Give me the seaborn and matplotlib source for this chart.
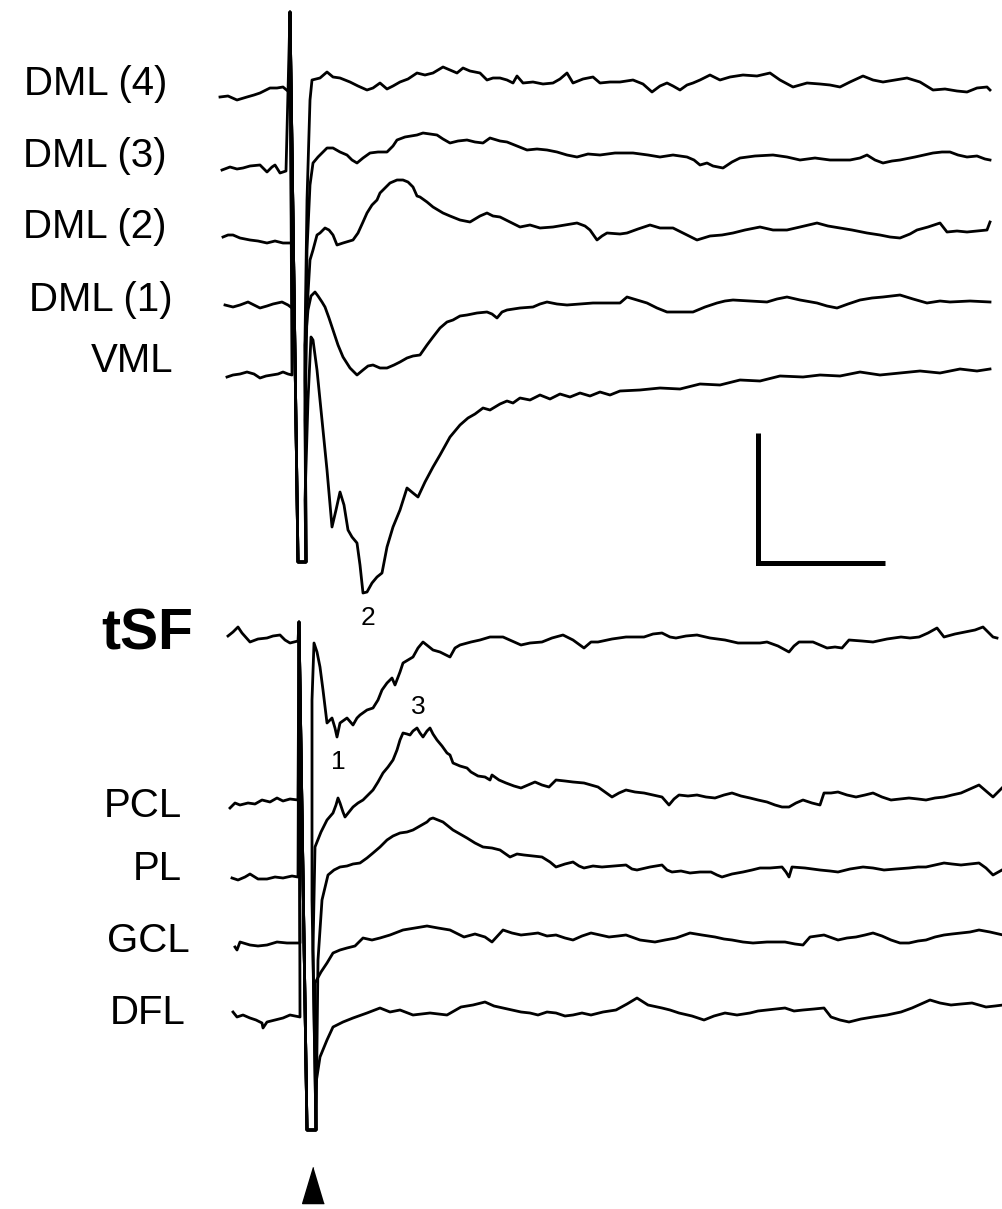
import matplotlib
matplotlib.use("Agg")
import matplotlib.pyplot as plt
import seaborn as sns
import pandas as pd

# ---------------- data (time axis t, amplitude axis v; v grows downward) ----------------
DML4_T = [220,228,237,247,254,260,266,270,277,283,
          289,290,298,306,305,307,310,312,320,327,
          333,340,350,358,367,373,380,387,393,400,
          408,417,425,433,443,450,457,463,470,480,
          487,493,500,507,513,517,523,533,543,553,
          560,567,573,583,593,600,610,620,633,643,
          652,660,667,673,680,687,693,700,710,720,
          730,743,757,770,780,793,807,820,830,840,
          850,863,873,883,895,907,920,933,945,957,
          967,977,987,990]
DML4_V = [97,96,100,97,95,93,90,88,88,87,
          92,12,562,562,340,200,100,80,78,72,
          77,78,82,86,90,88,83,89,86,82,
          79,73,75,73,67,70,73,68,71,73,
          80,78,78,80,83,76,83,82,84,83,
          79,73,83,79,77,83,82,82,80,84,
          92,86,83,86,90,85,83,80,75,80,
          77,75,76,73,80,87,83,84,85,87,
          82,76,80,82,80,78,82,90,89,91,
          92,88,87,90]

DML3_T = [222,230,237,243,250,260,267,272,275,280,
          286,290,298,306,305,307,310,313,318,323,
          327,333,340,347,352,357,363,370,378,387,
          393,397,405,417,423,430,437,443,450,458,
          467,475,483,490,500,507,517,527,537,547,
          557,567,577,588,600,615,633,648,660,673,
          687,694,700,707,713,723,732,740,755,773,
          787,800,815,830,850,860,867,875,883,892,
          900,915,933,942,950,958,967,977,985,990]
DML3_V = [170,167,169,168,166,165,172,167,165,173,
          171,12,562,562,380,250,185,163,157,152,
          148,148,152,155,160,163,158,153,152,152,
          146,140,137,135,133,134,135,139,143,141,
          140,142,143,138,141,142,146,150,149,150,
          152,155,157,154,155,153,153,155,157,155,
          157,160,165,163,166,168,162,158,156,155,
          157,160,158,160,160,158,155,160,163,161,
          160,157,153,152,152,155,157,156,159,160]

DML2_T = [223,228,233,240,250,258,267,275,283,292,
          290,298,306,305,307,310,313,317,320,325,
          329,333,337,343,353,358,363,367,372,377,
          380,385,390,397,403,408,413,417,420,427,
          433,443,450,460,470,480,487,493,500,510,
          520,530,540,553,565,577,585,590,597,602,
          607,620,627,638,650,660,673,685,697,710,
          722,733,745,760,773,787,800,817,828,840,
          852,867,880,890,900,910,917,928,940,947,
          957,967,977,987,990]
DML2_V = [237,235,235,238,240,241,243,241,243,243,
          12,562,562,420,310,260,250,235,233,228,
          230,235,245,243,240,233,222,213,205,200,
          193,188,183,180,180,182,187,196,197,202,
          207,213,216,220,222,216,213,216,217,222,
          227,225,228,227,225,223,226,230,240,236,
          233,234,233,229,225,228,228,234,240,236,
          235,233,230,227,230,230,227,223,226,228,
          230,233,235,237,238,234,230,227,223,232,
          231,232,231,230,222]

DML1_T = [225,233,240,248,254,260,267,273,282,288,
          292,290,298,306,305,308,311,315,318,322,
          325,329,333,338,343,350,357,363,368,373,
          380,387,394,400,407,413,420,427,433,440,
          447,453,460,467,477,487,492,497,502,507,
          520,533,540,547,557,567,580,593,607,620,
          627,637,647,657,667,680,693,705,717,725,
          733,750,767,777,787,800,817,827,837,848,
          860,872,883,900,913,927,940,950,970,990]
DML1_V = [305,307,305,302,305,308,306,304,302,305,
          308,12,562,562,345,310,296,292,296,302,
          307,318,330,345,357,368,375,370,366,365,
          368,368,365,362,358,356,355,345,337,328,
          322,320,316,315,313,312,314,318,312,310,
          308,307,304,302,304,305,304,303,303,303,
          297,300,303,308,312,312,312,307,303,301,
          300,301,302,299,297,300,303,306,308,304,
          300,298,297,295,299,303,301,302,301,302]

VML_T = [227,233,240,247,254,260,266,272,278,283,
         288,292,290,298,306,305,308,311,313,317,
         322,327,332,336,340,344,348,352,357,360,
         363,367,372,377,382,387,393,400,407,413,
         418,425,433,440,450,460,468,475,483,490,
         500,507,513,520,530,540,550,560,570,580,
         590,600,610,620,640,660,680,700,720,740,
         760,780,803,820,840,860,880,900,920,940,
         960,977,990]
VML_V = [377,375,374,372,374,378,376,375,374,372,
         374,375,12,562,562,500,400,337,340,370,
         420,470,527,510,492,505,530,537,543,565,
         593,592,583,577,573,547,527,510,488,493,
         497,482,467,455,437,425,418,414,408,410,
         404,401,403,398,400,395,399,394,397,393,
         396,392,395,391,390,388,389,384,385,380,
         381,376,377,375,376,372,375,373,371,373,
         369,371,369]

TSF_T = [228,233,238,242,250,258,267,273,280,285,
         290,298,299,307,316,312,312,314,317,320,
         323,327,332,335,337,340,347,353,357,360,
         367,373,378,382,387,392,395,400,403,408,
         413,418,423,428,433,440,450,455,460,471,
         480,490,503,512,521,530,542,552,563,573,
         584,591,598,612,626,635,644,653,662,670,
         676,686,697,710,725,738,750,760,767,778,
         789,794,799,813,820,827,835,842,849,862,
         873,887,901,910,919,928,937,944,955,965,
         975,983,993,997]
TSF_V = [636,632,627,633,642,639,638,636,635,640,
         643,641,622,1130,1130,900,700,643,652,667,
         690,723,718,728,737,723,718,725,718,715,
         710,708,700,690,683,678,685,672,663,660,
         657,648,642,646,650,652,657,648,645,642,
         640,637,637,641,645,643,642,638,635,640,
         648,642,642,639,637,637,637,634,633,637,
         638,636,635,638,640,643,643,643,642,646,
         652,646,642,642,645,648,647,648,640,641,
         642,639,637,638,637,633,628,637,634,632,
         630,627,637,638]

PCL_T = [230,235,240,248,255,262,270,277,283,290,
         298,299,307,316,313,315,321,327,333,336,
         338,340,343,345,349,353,358,363,368,373,
         378,383,388,393,397,400,403,407,410,413,
         417,420,423,427,430,433,437,442,447,450,
         453,460,467,471,478,485,490,492,499,506,
         514,521,528,535,542,549,556,565,573,584,
         591,598,605,612,619,626,635,644,653,662,
         669,674,679,688,697,706,715,724,732,741,
         750,758,767,775,782,789,796,803,812,820,
         824,831,838,847,856,865,873,882,891,900,
         909,918,926,935,944,952,961,970,979,986,
         993,998,1002]
PCL_V = [808,803,805,803,804,800,802,798,801,799,
         800,622,1130,1130,950,847,832,820,813,805,
         798,803,812,817,812,807,803,800,795,790,
         782,773,767,760,750,740,733,734,735,731,
         728,733,737,731,728,734,740,746,753,755,
         763,766,768,772,776,777,780,775,780,783,
         786,788,785,782,785,787,780,781,782,783,
         785,787,792,797,793,790,792,793,795,797,
         805,799,795,796,795,797,798,795,793,796,
         798,800,802,805,807,807,803,800,803,805,
         793,793,792,795,797,795,793,797,800,799,
         798,799,800,798,797,795,793,789,785,791,
         797,792,788]

PL_T = [232,238,245,250,258,267,275,283,292,298,
        299,307,316,318,322,328,334,340,347,353,
        360,367,373,380,387,393,400,407,413,420,
        427,430,433,438,443,448,453,460,467,475,
        483,492,500,510,517,524,533,542,550,556,
        565,573,579,584,593,602,614,626,632,637,
        650,662,667,672,681,690,700,711,717,722,
        732,743,752,760,770,782,786,789,792,805,
        820,830,838,850,863,873,884,896,909,918,
        926,935,944,952,961,970,979,986,993,1002]
PL_V = [878,880,877,874,879,879,877,878,876,877,
        622,1130,1130,960,900,875,870,867,866,864,
        863,858,853,847,840,836,833,832,830,826,
        822,819,818,820,822,826,830,834,838,843,
        847,848,850,857,854,855,856,857,862,867,
        864,862,866,868,866,867,866,865,869,870,
        867,865,870,872,871,873,872,872,875,877,
        874,872,870,868,868,867,872,877,867,868,
        870,871,872,869,867,868,870,869,868,867,
        867,865,863,864,865,864,863,868,875,870]

GCL_T = [235,237,240,250,258,267,277,287,300,
         299,307,316,315,321,327,333,340,347,355,
         363,372,380,390,403,415,427,438,450,464,
         475,485,492,503,512,521,530,538,547,556,
         565,573,582,591,600,609,618,626,640,655,
         665,676,690,702,715,724,732,743,753,767,
         785,795,803,810,824,838,847,856,865,873,
         882,891,900,909,918,926,935,944,952,961,
         970,979,990,1003]
GCL_V = [947,950,942,945,946,945,942,943,943,
         622,1130,1130,983,972,963,953,950,948,946,
         938,940,938,935,930,928,926,928,930,937,
         934,937,942,930,933,935,934,933,936,935,
         938,940,936,933,935,937,936,935,940,942,
         940,938,933,935,937,939,940,942,943,942,
         942,944,945,937,935,940,938,937,935,933,
         936,940,943,943,941,940,937,935,934,933,
         932,930,932,935]

DFL_T = [233,237,243,250,256,262,263,267,275,283,
         290,300,299,307,316,316,320,327,333,343,
         353,367,380,390,400,413,430,447,461,473,
         485,494,503,512,521,530,538,547,556,565,
         573,582,591,603,616,627,637,648,662,670,
         679,692,704,714,725,737,750,758,767,776,
         785,794,803,814,824,831,840,849,861,873,
         887,901,912,921,930,940,951,961,972,986,
         995,1003]
DFL_V = [1012,1017,1015,1018,1020,1023,1028,1022,1020,1018,
         1015,1017,622,1130,1130,1083,1057,1040,1027,1022,
         1018,1013,1008,1012,1010,1015,1013,1015,1007,1005,
         1002,1006,1008,1010,1012,1013,1015,1012,1013,1016,
         1015,1013,1015,1012,1010,1004,998,1005,1008,1010,
         1013,1016,1020,1016,1013,1015,1013,1011,1010,1009,
         1008,1011,1010,1009,1008,1017,1020,1022,1019,1017,
         1015,1012,1008,1004,1000,1003,1005,1004,1003,1007,
         1006,1005]

TRACE_NAMES = ["DML (4)", "DML (3)", "DML (2)", "DML (1)", "VML",
               "tSF", "PCL", "PL", "GCL", "DFL"]
TRACE_T = [DML4_T, DML3_T, DML2_T, DML1_T, VML_T, TSF_T, PCL_T, PL_T, GCL_T, DFL_T]
TRACE_V = [DML4_V, DML3_V, DML2_V, DML1_V, VML_V, TSF_V, PCL_V, PL_V, GCL_V, DFL_V]

LABEL_X = [167, 167, 167, 173, 173, 193, 182, 182, 190, 186]
LABEL_Y = [95, 167, 238, 311, 372, 650, 817, 880, 952, 1024]

PEAK_LABELS = ["1", "2", "3"]
PEAK_X = [338, 368, 418]
PEAK_Y = [762, 618, 707]

SCALEBAR_T = [758, 758, 885]
SCALEBAR_V = [433, 563, 563]

STIM_T = [313]
STIM_V = [1185]

# ---------------- build long table ----------------
rows = []
for name, ts, vs in zip(TRACE_NAMES, TRACE_T, TRACE_V):
    n = min(len(ts), len(vs))
    for i in range(n):
        rows.append({"trace": name, "i": i, "t": ts[i], "v": vs[i]})
df = pd.DataFrame(rows)

plt.rcParams['font.family'] = ['Liberation Sans', 'DejaVu Sans']

fig = plt.figure(figsize=(10.03, 12.09), dpi=100)
ax = fig.add_axes([0, 0, 1, 1])
sns.lineplot(data=df, x="t", y="v", units="trace", estimator=None, sort=False,
             color="black", linewidth=2.0, legend=False, ax=ax)

# scale bar
ax.plot(SCALEBAR_T, SCALEBAR_V, color="black", lw=3.6,
        solid_capstyle="butt", solid_joinstyle="miter")

# stimulus arrowhead
ax.plot(STIM_T, STIM_V, linestyle="none", color="black",
        marker=[(0, 0.5), (-0.3, -0.5), (0.3, -0.5)], markersize=26)

# trace labels
for name, x, y in zip(TRACE_NAMES, LABEL_X, LABEL_Y):
    if name == "tSF":
        ax.text(x, y, name, ha="right", va="baseline", fontsize=41,
                fontweight="bold", color="black")
    else:
        ax.text(x, y, name, ha="right", va="baseline", fontsize=29,
                color="black")

for s, x, y in zip(PEAK_LABELS, PEAK_X, PEAK_Y):
    ax.text(x, y, s, ha="center", va="center", fontsize=19, color="black")

ax.set_xlim(0, 1003)
ax.set_ylim(1209, 0)
ax.axis("off")
fig.savefig("out.png", dpi=100, facecolor="white")
